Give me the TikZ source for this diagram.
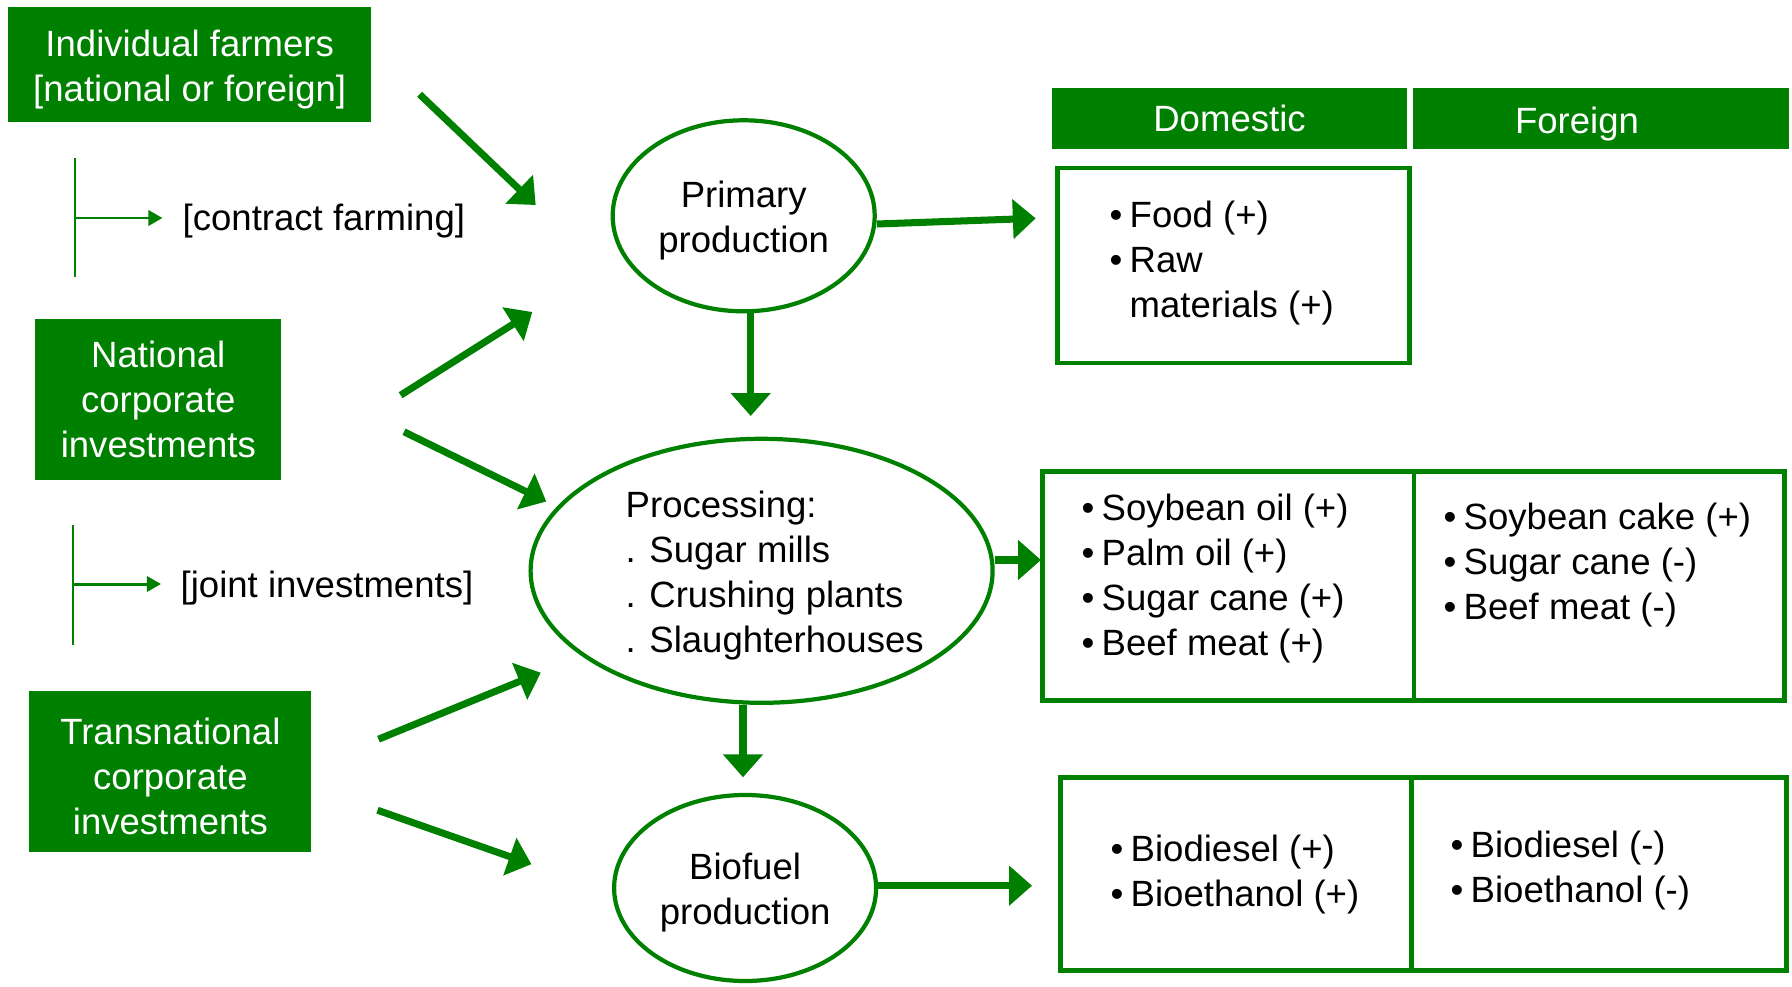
\documentclass[tikz,border=0pt]{standalone}
\usepackage{fontspec}
\setmainfont{Liberation Sans}
\usetikzlibrary{arrows.meta,shapes.geometric}

\definecolor{leafgreen}{RGB}{0,128,0}
\newcommand{\itemdot}{\makebox[0.2cm][l]{•}}
\newcommand{\itemgap}{\makebox[0.2cm]{}}
\newcommand{\topstrut}{\rule{0pt}{0.36cm}}

\begin{document}
\begin{tikzpicture}

    % --- Styles ---
    \tikzset{
        every node/.style={font=\fontsize{10.4pt}{12.8pt}\selectfont},
        actor/.style={fill=leafgreen, text=white, align=center, inner sep=0pt},
        stage/.style={ellipse, draw=leafgreen, line width=1.2pt, align=center, inner sep=0pt},
        header/.style={fill=leafgreen, text=white, inner sep=0pt, minimum height=0.61cm},
        cell/.style={draw=leafgreen, line width=1.4pt, inner sep=0pt},
        itemlist/.style={anchor=west, align=left, inner sep=0pt},
        bigarrow/.style={draw=leafgreen, line width=2pt, -{Triangle[width=11pt,length=6.5pt]}},
        thinarrow/.style={draw=leafgreen, line width=0.85pt, -{Triangle[width=4.3pt,length=4pt]}},
        bracket/.style={draw=leafgreen, line width=0.85pt}
    }

    \useasboundingbox (0,0) rectangle (17.92,9.86);

    % --- 1. Investors (left) ---
    \node[actor, minimum width=3.63cm, minimum height=1.15cm] (farmers) at (1.897, 9.214) {\topstrut Individual farmers\\{}[national or foreign]};
    \node[actor, minimum width=2.457cm, minimum height=1.61cm] (natinv) at (1.583, 5.865) {National\\ corporate\\ investments};
    \node[actor, minimum width=2.82cm, minimum height=1.61cm] (transinv) at (1.704, 2.142) {\topstrut Transnational\\ corporate\\ investments};

    % contract farming / joint investments
    \coordinate (cftop) at (0.75, 8.28);
    \coordinate (cfbot) at (0.75, 7.09);
    \coordinate (cfmid) at (0.75, 7.68);
    \node[anchor=west, inner sep=0pt] (cftext) at (1.82, 7.645) {[contract farming]};
    \draw[bracket] (cftop) -- (cfbot);
    \draw[thinarrow, shorten >=0.195cm] (cfmid) -- (cftext.west |- cfmid);

    \coordinate (jitop) at (0.73, 4.61);
    \coordinate (jibot) at (0.73, 3.41);
    \coordinate (jimid) at (0.73, 4.02);
    \node[anchor=west, inner sep=0pt] (jitext) at (1.80, 3.975) {[joint investments]};
    \draw[bracket] (jitop) -- (jibot);
    \draw[thinarrow, shorten >=0.19cm] (jimid) -- (jitext.west |- jimid);

    % --- 2. Production stages (middle) ---
    \node[stage, minimum width=2.62cm, minimum height=1.91cm] (prim) at (7.437, 7.702) {\topstrut Primary\\ production};
    \node[stage, minimum width=4.62cm, minimum height=2.64cm] (proc) at (7.616, 4.152) {};
    \node[anchor=west, align=left, inner sep=0pt] (proctext) at (6.25, 4.105) {Processing:\\ . Sugar mills\\ . Crushing plants\\ . Slaughterhouses};
    \node[stage, minimum width=2.62cm, minimum height=1.86cm] (bio) at (7.451, 0.98) {\topstrut Biofuel\\ production};

    % --- 3. Markets (right) ---
    \node[header, minimum width=3.55cm] (domhead) at (12.295, 8.675) {Domestic};
    \node[header, minimum width=3.76cm] (frgnhead) at (16.01, 8.675) {};
    \node[text=white, inner sep=0pt] (frgntext) at (15.77, 8.62) {Foreign};

    \node[cell, minimum width=3.52cm, minimum height=1.95cm] (foodcell) at (12.335, 7.205) {};
    \node[cell, minimum width=3.715cm, minimum height=2.29cm] (procdom) at (12.2825, 4.0) {};
    \node[cell, minimum width=3.705cm, minimum height=2.29cm] (procfor) at (15.9925, 4.0) {};
    \node[cell, minimum width=3.51cm, minimum height=1.93cm] (biodom) at (12.36, 1.12) {};
    \node[cell, minimum width=3.75cm, minimum height=1.93cm] (biofor) at (15.99, 1.12) {};

    \node[itemlist] (foodlist) at (11.09, 7.28) {\topstrut\itemdot Food (+)\\ \itemdot Raw\\ \itemgap materials (+)};
    \node[itemlist] (procdomlist) at (10.81, 4.122) {\topstrut\itemdot Soybean oil (+)\\ \itemdot Palm oil (+)\\ \itemdot Sugar cane (+)\\ \itemdot Beef meat (+)};
    \node[itemlist] (procforlist) at (14.43, 4.257) {\topstrut\itemdot Soybean cake (+)\\ \itemdot Sugar cane (-)\\ \itemdot Beef meat (-)};
    \node[itemlist] (biodomlist) at (11.10, 1.163) {\topstrut\itemdot Biodiesel (+)\\ \itemdot Bioethanol (+)};
    \node[itemlist] (bioforlist) at (14.50, 1.20) {\topstrut\itemdot Biodiesel (-)\\ \itemdot Bioethanol (-)};

    % --- 4. Arrows ---
    % investors -> stages
    \coordinate (a1s) at (4.196, 8.917);  \coordinate (a1e) at (5.357, 7.81);
    \coordinate (a2s) at (4.006, 5.908);  \coordinate (a2e) at (5.323, 6.74);
    \coordinate (a3s) at (4.04, 5.542);   \coordinate (a3e) at (5.463, 4.845);
    \coordinate (a4s) at (3.785, 2.468);  \coordinate (a4e) at (5.408, 3.133);
    \coordinate (a5s) at (3.775, 1.758);  \coordinate (a5e) at (5.314, 1.218);
    \foreach \i in {1,...,5}
        \draw[bigarrow] (a\i s) -- (a\i e);

    % stage -> stage
    \coordinate (pp) at (7.507, 5.70);
    \coordinate (pb) at (7.43, 2.087);
    \draw[bigarrow] (prim.south -| pp) -- (pp);
    \draw[bigarrow] (proc.south -| pb) -- (pb);

    % stage -> markets
    \coordinate (pfs) at (8.77, 7.62);
    \coordinate (pf) at (10.357, 7.677);
    \coordinate (pt) at (10.41, 4.26);
    \coordinate (bf) at (10.32, 1.003);
    \draw[bigarrow] (prim.east |- pfs) -- (pf);
    \draw[bigarrow] (proc.east |- pt) -- (pt);
    \draw[bigarrow] (bio.east |- bf) -- (bf);

\end{tikzpicture}
\end{document}
